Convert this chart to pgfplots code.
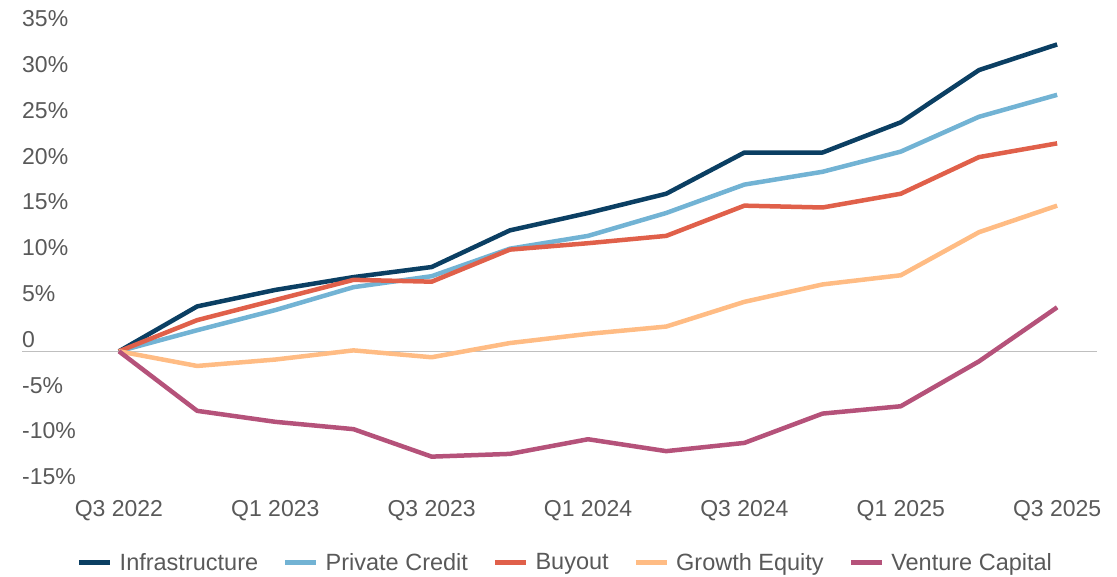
\documentclass[border=0pt]{standalone}
\usepackage{pgfplots}
\pgfplotsset{compat=1.18}
\usepackage{fontspec}
\setmainfont{Liberation Sans}
\definecolor{infra}{HTML}{0B3F63}
\definecolor{pc}{HTML}{72B3D4}
\definecolor{buy}{HTML}{E0604A}
\definecolor{ge}{HTML}{FFBC84}
\definecolor{vc}{HTML}{B5527A}
\definecolor{txt}{HTML}{595959}
\begin{document}
\begin{tikzpicture}
\begin{axis}[
  scale only axis, width=1075pt, height=458pt,
  xmin=-1.24, xmax=12.51, ymin=-15, ymax=35,
  axis line style={draw=none}, major tick length=0pt,
  xtick={0,2,4,6,8,10,12},
  xticklabels={Q3 2022,Q1 2023,Q3 2023,Q1 2024,Q3 2024,Q1 2025,Q3 2025},
  ytick={-15,-10,-5,0,5,10,15,20,25,30,35},
  yticklabels={-15\%,-10\%,-5\%,0,5\%,10\%,15\%,20\%,25\%,30\%,35\%},
  tick label style={font=\fontsize{23}{27}\selectfont, text=txt},
  xticklabel style={anchor=north, inner sep=0pt, yshift=-11.3pt},
  yticklabel style={anchor=base west, inner sep=0pt, yshift=4pt},
  extra y ticks={0}, extra y tick labels={},
  extra y tick style={grid=major, major grid style={draw=black!25, line width=1.2pt}},
  legend columns=5,
  legend style={at={(0.508,-0.1611)}, anchor=center, draw=none, fill=none,
    font=\fontsize{23.5}{27}\selectfont, text=txt,
    nodes={inner xsep=7pt, inner ysep=0pt},
    /tikz/every even column/.append style={column sep=18pt}},
  legend image code/.code={\draw[#1, line width=4.5pt] (0pt,0pt) -- (31pt,0pt);},
  every axis plot/.append style={line width=4.5pt, line join=round},
  clip=false,
]
\addplot[color=infra] coordinates {(0,0) (1,4.9) (2,6.7) (3,8.1) (4,9.2) (5,13.2) (6,15.1) (7,17.2) (8,21.7) (9,21.7) (10,25.0) (11,30.7) (12,33.5)};
\addlegendentry{Infrastructure}
\addplot[color=pc] coordinates {(0,0) (1,2.3) (2,4.5) (3,7.0) (4,8.2) (5,11.2) (6,12.6) (7,15.1) (8,18.2) (9,19.6) (10,21.8) (11,25.6) (12,28.0)};
\addlegendentry{Private Credit}
\addplot[color=buy] coordinates {(0,0) (1,3.4) (2,5.6) (3,7.8) (4,7.6) (5,11.1) (6,11.8) (7,12.6) (8,15.9) (9,15.7) (10,17.2) (11,21.2) (12,22.7)};
\addlegendentry{Buyout}
\addplot[color=ge] coordinates {(0,0) (1,-1.6) (2,-0.9) (3,0.1) (4,-0.65) (5,0.9) (6,1.9) (7,2.7) (8,5.4) (9,7.3) (10,8.3) (11,13.0) (12,15.9)};
\addlegendentry{Growth Equity}
\addplot[color=vc] coordinates {(0,0) (1,-6.5) (2,-7.7) (3,-8.5) (4,-11.5) (5,-11.2) (6,-9.6) (7,-10.9) (8,-10.0) (9,-6.8) (10,-6.0) (11,-1.1) (12,4.8)};
\addlegendentry{Venture Capital}
\end{axis}
\pgfresetboundingbox
\path[use as bounding box] ([xshift=-22pt,yshift=-88.3pt]current axis.south west) rectangle ([xshift=20pt,yshift=30.7pt]current axis.north east);
\end{tikzpicture}
\end{document}
